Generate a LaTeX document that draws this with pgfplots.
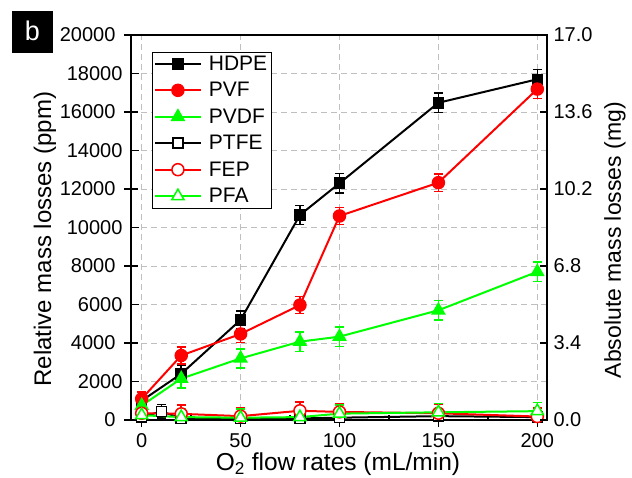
\documentclass[border=0pt]{standalone}
\usepackage{pgfplots}
\pgfplotsset{compat=1.18}
\usepackage{fontspec}
\setmainfont{Liberation Sans}
\definecolor{myred}{RGB}{255,0,0}
\definecolor{mygreen}{RGB}{0,255,0}
\begin{document}
\begin{tikzpicture}
\pgfplotsset{
  common/.style={
    at={(0,0)}, anchor=south west,
    scale only axis, width=416pt, height=385pt,
    xmin=-5.4, xmax=204.9,
    axis line style={line width=1.6pt},
    every tick/.style={line width=1.6pt, black},
    tick label style={font=\fontsize{20}{24}\selectfont},
    label style={font=\fontsize{24}{28}\selectfont},
    /pgf/number format/assume math mode=true,
    /pgf/number format/1000 sep={},
  },
  ebar/.style={error bars/.cd, y dir=both, y explicit,
    error bar style={line width=1.5pt},
    error mark options={rotate=90, mark size=4.5pt, line width=1.5pt}},
}
\begin{axis}[common,
  ymin=0, ymax=20000,
  xtick={0,50,100,150,200}, minor xtick={25,75,125,175},
  ytick={0,4000,8000,12000,16000,20000},
  extra y ticks={2000,6000,10000,14000,18000},
  extra y tick style={tick align=inside, major tick length=7.5pt, grid=major},
  tick pos=left,
  tick align=center, major tick length=14pt, minor tick length=5pt,
  every minor tick/.append style={yshift=2.5pt},
  scaled y ticks=false,
  yticklabel style={xshift=-5pt},
  xticklabel style={inner sep=0.5pt, yshift=-6pt},
  grid=major,
  grid style={gray!50, dash pattern=on 6pt off 4pt, line width=0.8pt},
  xlabel={O\textsubscript{2} flow rates (mL/min)},
  ylabel={Relative mass losses (ppm)},
  xlabel style={at={(axis description cs:0.4976,-0.1145)}, anchor=center, inner sep=0pt, font=\fontsize{24.5}{28}\selectfont},
  ylabel style={at={(axis description cs:-0.207,0.47)}, anchor=center},
  legend style={at={(axis description cs:0.0498,0.9566)}, anchor=north west,
    draw=black, font=\fontsize{21}{25}\selectfont,
    row sep=6.5pt, inner xsep=2pt},
  legend cell align=left,
  legend image code/.code={\draw[mark repeat=2,mark phase=2] plot coordinates {(0pt,0pt)(23pt,0pt)(46pt,0pt)}; \path (51pt,0pt);},
]
\addplot[black, line width=2pt, mark=square*, mark size=5pt, mark options={fill=black, line width=1.5pt}, ebar]
 coordinates {(0,1000)+-(0,300) (20,2400)+-(0,450) (50,5200)+-(0,450) (80,10650)+-(0,500) (100,12300)+-(0,500) (150,16480)+-(0,500) (200,17700)+-(0,500)};
\addlegendentry{HDPE}
\addplot[myred, line width=2pt, mark=*, mark size=6pt, mark options={fill=myred, line width=1.5pt}, ebar]
 coordinates {(0,1100)+-(0,350) (20,3350)+-(0,450) (50,4470)+-(0,450) (80,5970)+-(0,450) (100,10600)+-(0,450) (150,12330)+-(0,450) (200,17190)+-(0,500)};
\addlegendentry{PVF}
\addplot[mygreen, line width=2pt, mark=triangle*, mark size=7pt, mark options={fill=mygreen, line width=1.5pt}, ebar]
 coordinates {(0,750)+-(0,300) (20,2150)+-(0,500) (50,3200)+-(0,500) (80,4070)+-(0,500) (100,4330)+-(0,500) (150,5700)+-(0,500) (200,7700)+-(0,500)};
\addlegendentry{PVDF}
\addplot[black, line width=2pt, mark=square*, mark size=5pt, mark options={fill=white, line width=1.5pt}, ebar]
 coordinates {(0,150)+-(0,350) (10,450)+-(0,350) (20,80)+-(0,350) (50,80)+-(0,350) (80,80)+-(0,350) (100,120)+-(0,350) (150,200)+-(0,350) (200,150)+-(0,350)};
\addlegendentry{PTFE}
\addplot[myred, line width=2pt, mark=*, mark size=6pt, mark options={fill=white, line width=1.5pt}, ebar]
 coordinates {(0,350)+-(0,450) (20,320)+-(0,450) (50,200)+-(0,450) (80,480)+-(0,450) (100,420)+-(0,450) (150,350)+-(0,450) (200,180)+-(0,450)};
\addlegendentry{FEP}
\addplot[mygreen, line width=2pt, mark=triangle*, mark size=7pt, mark options={fill=white, line width=1.5pt}, ebar]
 coordinates {(0,250)+-(0,400) (20,150)+-(0,450) (50,120)+-(0,450) (80,150)+-(0,450) (100,330)+-(0,450) (150,400)+-(0,450) (200,460)+-(0,450)};
\addlegendentry{PFA}
\end{axis}
\begin{axis}[common,
  ymin=0, ymax=17,
  axis y line*=right, axis x line=none,
  ytick={0,3.4,6.8,10.2,13.6,17},
  yticklabel style={xshift=3pt, /pgf/number format/.cd, fixed, fixed zerofill, precision=1},
  tick align=inside, major tick length=7.5pt,
  ylabel={Absolute mass losses (mg)},
  ylabel style={at={(axis description cs:1.163,0.467)}, anchor=center, font=\fontsize{23}{27}\selectfont},
]
\end{axis}
\fill[black] (-119pt,367pt) rectangle (-78pt,409pt);
\node[white, font=\fontsize{27}{30}\selectfont] at (-98.5pt,389pt) {b};
\pgfresetboundingbox
\path (-131pt,-57pt) rectangle (501pt,420pt);
\end{tikzpicture}
\end{document}
